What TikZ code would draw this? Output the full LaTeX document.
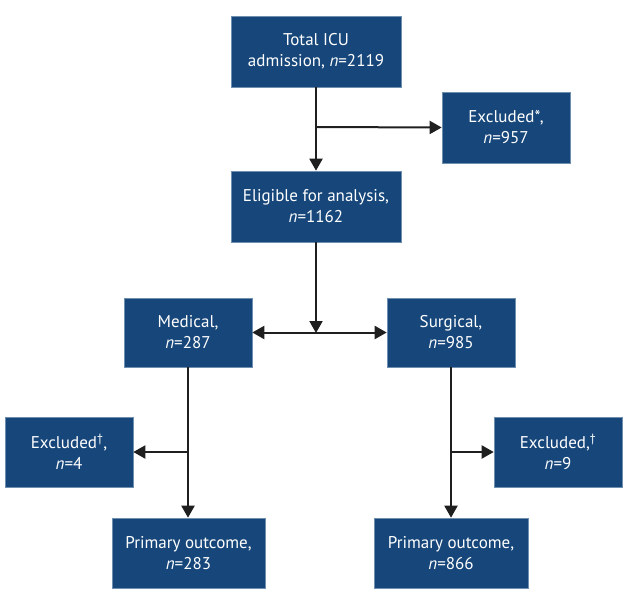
\documentclass[tikz,border=0pt]{standalone}
\usepackage{fontspec}
\setmainfont{PT Sans}
\usetikzlibrary{arrows.meta}
\definecolor{boxblue}{HTML}{17477A}
\definecolor{boxedge}{HTML}{6F8FB0}
\tikzset{
  x=1pt, y=-1pt,
  box/.style={rectangle, fill=boxblue, draw=boxedge, line width=0.6pt, text=white,
    align=center, inner sep=2pt, font=\fontsize{17}{21}\selectfont},
  conn/.style={line width=2pt, draw=black!88},
  tip/.tip={Triangle[length=12pt,width=13pt]},
  arr/.style={conn, -tip},
}
\begin{document}
\begin{tikzpicture}
\useasboundingbox (0,0) rectangle (629,613);
\node[box, minimum width=170pt, minimum height=71pt] (total) at (316,51.5) {Total ICU\\admission, \textit{n}=2119};
\node[box, minimum width=128pt, minimum height=71pt] (excl1) at (506,127.5) {Excluded*,\\\textit{n}=957};
\node[box, minimum width=170pt, minimum height=71pt] (elig) at (316,206.5) {Eligible for analysis,\\\textit{n}=1162};
\node[box, minimum width=128pt, minimum height=69pt] (med) at (188,332.5) {Medical,\\\textit{n}=287};
\node[box, minimum width=128pt, minimum height=69pt] (surg) at (451,332.5) {Surgical,\\\textit{n}=985};
\node[box, minimum width=128pt, minimum height=70pt] (exclL) at (69,452) {Excluded\textsuperscript{\dag},\\\textit{n}=4};
\node[box, minimum width=128pt, minimum height=70pt] (exclR) at (558,452) {Excluded,\textsuperscript{\dag}\\\textit{n}=9};
\node[box, minimum width=153pt, minimum height=70pt] (primL) at (188.5,553) {Primary outcome,\\\textit{n}=283};
\node[box, minimum width=154pt, minimum height=70pt] (primR) at (451,553) {Primary outcome,\\\textit{n}=866};
\coordinate (j1) at (316,127);
\coordinate (j2) at (316,333);
\coordinate (j3) at (188,452);
\coordinate (j4) at (451,452);
\draw[arr] (total.south) -- (elig.north);
\draw[arr] (j1) -- (excl1.west);
\draw[arr] (elig.south) -- (j2);
\draw[conn, tip-tip] (med.east) -- (surg.west);
\draw[arr] (med.south) -- (primL.north -| med.south);
\draw[arr] (j3) -- (exclL.east);
\draw[arr] (surg.south) -- (primR.north -| surg.south);
\draw[arr] (j4) -- (exclR.west);
\end{tikzpicture}
\end{document}
